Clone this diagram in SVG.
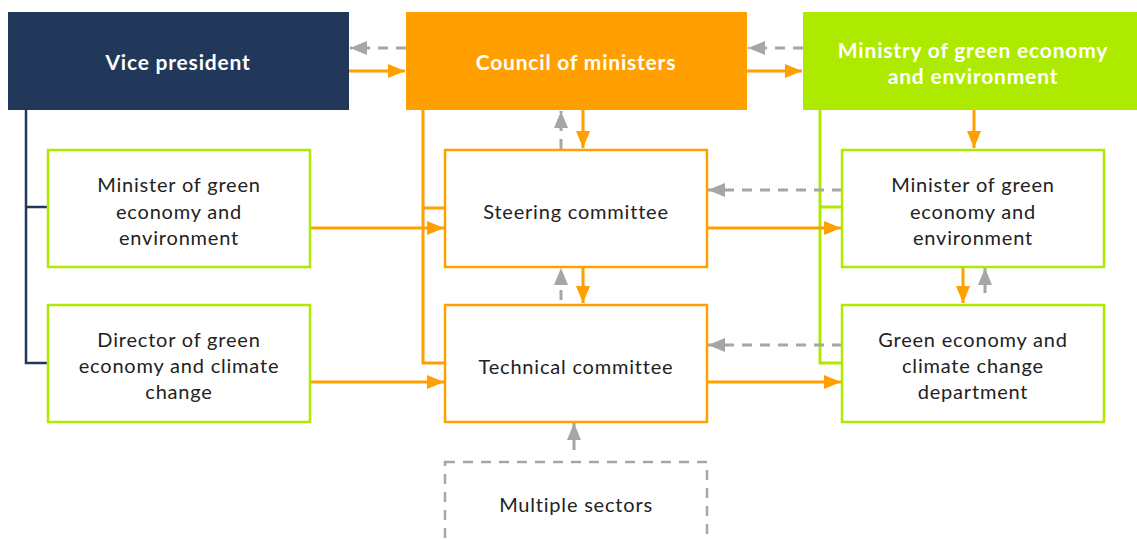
<svg xmlns="http://www.w3.org/2000/svg" width="1137" height="540" viewBox="0 0 1137 540">
<style>
text{font-family:Lato,"Open Sans","Liberation Sans",sans-serif;text-anchor:middle}
.t{font-size:20px;fill:#222;letter-spacing:0.8px}
.h{font-size:21px;fill:#fff;font-weight:bold;letter-spacing:0.8px}
.box{fill:#fff;stroke-width:2.5}
.g{stroke:#AEEA00}
.o{stroke:#FF9F00}
.ol{stroke:#FF9F00;stroke-width:3;fill:none}
.gl{stroke:#AEEA00;stroke-width:3;fill:none}
.nl{stroke:#21385B;stroke-width:2.5;fill:none}
.ga{stroke:#A6A6A6;stroke-width:3;fill:none;stroke-dasharray:10 8}
.oa{stroke:#FF9F00;stroke-width:3;fill:none;marker-end:url(#ao)}
.gd{marker-end:url(#ag)}
</style>
<defs>
<marker id="ao" markerUnits="userSpaceOnUse" markerWidth="18" markerHeight="14" refX="17" refY="7" orient="auto"><path d="M0,0 L17,7 L0,14 Z" fill="#FF9F00"/></marker>
<marker id="ag" markerUnits="userSpaceOnUse" markerWidth="18" markerHeight="14" refX="17" refY="7" orient="auto"><path d="M0,0 L17,7 L0,14 Z" fill="#A6A6A6"/></marker>
</defs>
<rect width="1137" height="540" fill="#fff"/>
<g id="connectors">
<path class="nl" d="M26,110 V363 H48 M26,207 H48"/>
<path class="ol" d="M423,110 V363 H445 M423,208 H445"/>
<path class="gl" d="M820,110 V363 H842 M820,207 H842"/>
<path class="ga gd" d="M406,48 H350"/>
<path class="oa" d="M349,71 H405"/>
<path class="ga gd" d="M803,48 H748"/>
<path class="oa" d="M747,71 H802"/>
<path class="ga gd" d="M561,149 V111"/>
<path class="oa" d="M583,110 V148"/>
<path class="ga gd" d="M561,300 V268"/>
<path class="oa" d="M583,267 V303"/>
<path class="oa" d="M974,110 V148"/>
<path class="oa" d="M963,267 V303"/>
<path class="ga gd" d="M985,293 V268"/>
<path class="oa" d="M310,228 H444"/>
<path class="oa" d="M310,382 H444"/>
<path class="oa" d="M707,228 H841"/>
<path class="oa" d="M707,382 H841"/>
<path class="ga gd" d="M842,190 H708"/>
<path class="ga gd" d="M842,345 H708"/>
<path class="ga gd" d="M574,450 V423"/>
</g>
<g id="vp"><rect x="8" y="12" width="341" height="98" fill="#21385B"/><text class="h" x="178" y="70">Vice president</text></g>
<g id="council"><rect x="406" y="12" width="341" height="98" fill="#FF9F00"/><text class="h" x="576" y="70">Council of ministers</text></g>
<g id="ministry"><rect x="803" y="12" width="334" height="98" fill="#AEEA00"/><text class="h" x="973" y="58">Ministry of green economy</text><text class="h" x="973" y="84">and environment</text></g>
<g id="minister-left"><rect class="box g" x="48" y="150" width="262" height="117"/><text class="t" x="179" y="192">Minister of green</text><text class="t" x="179" y="219">economy and</text><text class="t" x="179" y="245">environment</text></g>
<g id="director"><rect class="box g" x="48" y="305" width="262" height="117"/><text class="t" x="179" y="347">Director of green</text><text class="t" x="179" y="373">economy and climate</text><text class="t" x="179" y="399">change</text></g>
<g id="steering"><rect class="box o" x="445" y="150" width="262" height="117"/><text class="t" x="576" y="219">Steering committee</text></g>
<g id="technical"><rect class="box o" x="445" y="305" width="262" height="117"/><text class="t" x="576" y="374">Technical committee</text></g>
<g id="minister-right"><rect class="box g" x="842" y="150" width="262" height="117"/><text class="t" x="973" y="192">Minister of green</text><text class="t" x="973" y="219">economy and</text><text class="t" x="973" y="245">environment</text></g>
<g id="department"><rect class="box g" x="842" y="305" width="262" height="117"/><text class="t" x="973" y="347">Green economy and</text><text class="t" x="973" y="373">climate change</text><text class="t" x="973" y="399">department</text></g>
<g id="sectors"><rect x="445" y="462" width="262" height="100" fill="none" stroke="#A6A6A6" stroke-width="2.5" stroke-dasharray="10 8"/><text class="t" x="576" y="512">Multiple sectors</text></g>
</svg>
